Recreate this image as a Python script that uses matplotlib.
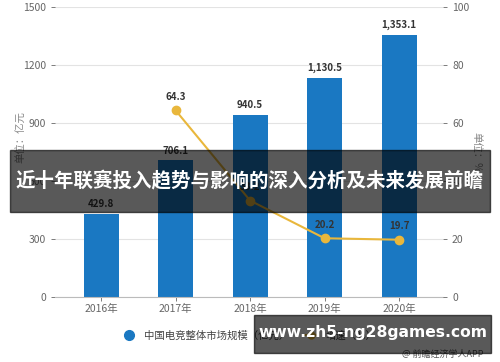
import numpy as np
import matplotlib.pyplot as plt
from matplotlib.lines import Line2D
from matplotlib.patches import Rectangle

plt.rcParams['font.family'] = ['Noto Sans CJK SC', 'DejaVu Sans']

# ============= data =============================
years = ['2016年', '2017年', '2018年', '2019年', '2020年']
market_size = [429.8, 706.1, 940.5, 1130.5, 1353.1]   # 亿元
growth_years = [1, 2, 3, 4]                          # index into years
growth_rate = [64.3, 33.2, 20.2, 19.7]              # %
left_ticks = [0, 300, 600, 900, 1200, 1500]
right_ticks = [0, 20, 40, 60, 80, 100]

bar_color = '#1a78c2'
line_color = '#e9b73c'
grid_color = '#e3e3e3'
tick_color = '#666666'

# ============= figure =============================
fig = plt.figure(figsize=(5, 3.62), dpi=100)
ax = fig.add_axes([0.11, 0.18, 0.776, 0.801])
ax2 = ax.twinx()

x = np.arange(len(years))
ax.bar(x, market_size, width=0.47, color=bar_color, zorder=2)
for xi, v in zip(x, market_size):
    ax.text(xi, v + 25, f'{v:,.1f}', ha='center', va='bottom',
            fontsize=7, fontweight='bold', color='#333333')

ax.set_xlim(-0.62, 4.59)
ax.set_ylim(0, 1500)
ax.set_yticks(left_ticks)
ax.set_xticks(x)
ax.set_xticklabels(years)
ax.grid(axis='y', color=grid_color, linewidth=0.8, zorder=0)
ax.set_axisbelow(True)
ax.tick_params(axis='both', labelsize=7.5, colors=tick_color, length=3,
               width=0.6)
ax.tick_params(axis='x', pad=2)
for s in ['top', 'right', 'left']:
    ax.spines[s].set_visible(False)
ax.spines['bottom'].set_color('#bbbbbb')
ax.set_ylabel('单位：亿元', fontsize=7.5, color='#888888', labelpad=6)
ax.yaxis.set_label_coords(-0.075, 0.55)

# growth line -------------------------------
ax2.plot(growth_years, growth_rate, color=line_color, linewidth=1.5,
         marker='o', markersize=6, zorder=3)
for xi, v in zip(growth_years, growth_rate):
    ax2.text(xi, v + 3, f'{v:.1f}', ha='center', va='bottom',
             fontsize=7, fontweight='bold', color='#333333')
ax2.set_ylim(0, 100)
ax2.set_yticks(right_ticks)
ax2.tick_params(axis='y', labelsize=7.5, colors=tick_color, length=3,
                width=0.6)
for s in ['top', 'right', 'left', 'bottom']:
    ax2.spines[s].set_visible(False)
ax2.set_ylabel('单位：%', fontsize=7.5, color='#888888', rotation=270,
               labelpad=8)
ax2.yaxis.set_label_coords(1.1, 0.5)

# legend ------------------------------------
handles = [
    Line2D([], [], color=bar_color, marker='o', linestyle='none',
           markersize=7),
    Line2D([], [], color=line_color, marker='o', linewidth=1.5,
           markersize=5),
]
fig.legend(handles, ['中国电竞整体市场规模（亿元）', '增速（%）'],
           loc='center', bbox_to_anchor=(0.5, 0.072), ncol=2,
           frameon=False, fontsize=7.5, handlelength=1.2,
           columnspacing=1.5, labelcolor='#444444')

fig.text(0.966, 0.02, '@ 前瞻经济学人APP', ha='right', va='center',
         fontsize=6.5, color='#555555')

# overlay banner ------------------------------
fig.patches.append(Rectangle((0.02, 1 - 212 / 362), 0.96, 62 / 362,
                             transform=fig.transFigure, color='black',
                             alpha=0.65, zorder=10))
fig.text(0.5, 1 - 181 / 362, '近十年联赛投入趋势与影响的深入分析及未来发展前瞻',
         ha='center', va='center', fontsize=14, fontweight='bold',
         color='white', zorder=11)

fig.patches.append(Rectangle((254 / 500, 1 - 353 / 362), 237 / 500, 38 / 362,
                             transform=fig.transFigure, color='black',
                             alpha=0.65, zorder=10))
fig.text(373 / 500, 1 - 333 / 362, 'www.zh5-ng28games.com',
         ha='center', va='center', fontsize=11.2, fontweight='bold',
         color='white', family='DejaVu Sans', zorder=11)

fig.savefig('out.png', dpi=100)
